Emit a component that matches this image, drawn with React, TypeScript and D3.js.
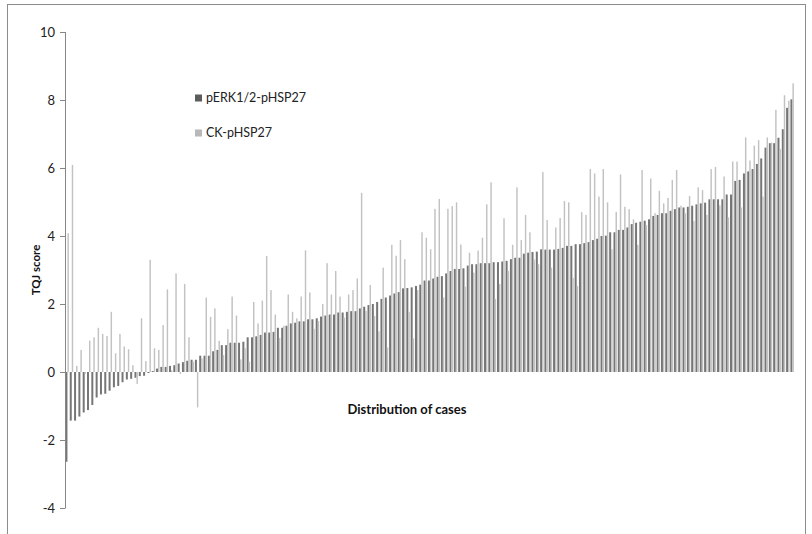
import React from 'react';
import * as d3 from 'd3';

// pERK1/2-pHSP27 TQJ scores, sorted ascending (one per case)
const perkValues = [
  -2.64, -1.43, -1.43, -1.31, -1.19, -1.12, -0.97, -0.75, -0.66, -0.64,
  -0.55, -0.45, -0.41, -0.30, -0.22, -0.20, -0.17, -0.12, -0.11, -0.03,
  0.03, 0.10, 0.15, 0.15, 0.18, 0.20, 0.25, 0.29, 0.33, 0.36,
  0.36, 0.48, 0.48, 0.48, 0.61, 0.65, 0.79, 0.79, 0.86, 0.86,
  0.86, 0.89, 1.02, 1.02, 1.05, 1.09, 1.16, 1.16, 1.18, 1.30,
  1.30, 1.36, 1.43, 1.45, 1.49, 1.49, 1.55, 1.55, 1.58, 1.63,
  1.66, 1.69, 1.69, 1.75, 1.75, 1.77, 1.79, 1.79, 1.87, 1.92,
  1.97, 2.00, 2.06, 2.15, 2.19, 2.25, 2.31, 2.35, 2.46, 2.47,
  2.49, 2.53, 2.57, 2.69, 2.69, 2.75, 2.80, 2.82, 2.90, 2.97,
  3.03, 3.03, 3.05, 3.13, 3.17, 3.17, 3.20, 3.20, 3.20, 3.23,
  3.23, 3.25, 3.27, 3.32, 3.36, 3.36, 3.48, 3.51, 3.53, 3.54,
  3.61, 3.60, 3.60, 3.60, 3.62, 3.65, 3.71, 3.71, 3.76, 3.76,
  3.79, 3.82, 3.88, 3.92, 4.00, 4.01, 4.11, 4.11, 4.18, 4.18,
  4.25, 4.35, 4.39, 4.42, 4.45, 4.49, 4.59, 4.62, 4.67, 4.67,
  4.74, 4.79, 4.84, 4.84, 4.86, 4.89, 4.93, 4.96, 4.98, 5.08,
  5.08, 5.08, 5.08, 5.22, 5.22, 5.62, 5.65, 5.84, 5.90, 5.97,
  6.12, 6.28, 6.60, 6.73, 6.73, 6.89, 7.14, 7.77, 8.02,
];

// CK-pHSP27 TQJ scores for the same cases
const ckValues = [
  4.08, 6.09, 0.18, 0.65, -0.05, 0.92, 1.02, 1.30, 1.12, 1.06,
  1.77, 0.55, 1.12, 0.75, 0.67, 0.20, -0.35, 1.58, 0.32, 3.30,
  0.70, 0.65, 1.38, 2.43, 0.05, 2.90, -0.06, 2.59, 1.02, 0.30,
  -1.04, 0.40, 2.19, 1.62, 1.87, 0.92, 0.50, 1.26, 2.22, 1.66,
  0.37, 0.70, 0.30, 2.06, 1.43, 2.10, 3.41, 2.41, 1.69, 1.00,
  1.36, 2.28, 1.77, 1.58, 2.22, 3.58, 2.34, 1.27, 1.50, 2.00,
  3.20, 2.28, 2.97, 2.22, 1.60, 2.28, 2.41, 2.75, 5.27, 1.80,
  2.56, 1.65, 1.20, 3.07, 0.72, 3.74, 3.42, 3.88, 3.32, 1.77,
  0.99, 2.41, 4.11, 3.95, 3.61, 4.80, 5.09, 2.19, 4.80, 4.88,
  4.99, 3.75, 2.51, 3.51, 2.92, 3.57, 3.95, 4.93, 5.58, 2.15,
  2.59, 4.52, 2.97, 3.74, 5.43, 3.88, 4.62, 4.11, 3.31, 3.17,
  5.88, 4.47, 3.07, 4.25, 4.53, 5.03, 4.99, 2.77, 2.53, 4.70,
  4.62, 5.97, 5.84, 5.16, 5.97, 4.99, 3.61, 4.71, 5.81, 4.86,
  4.79, 4.49, 3.74, 5.94, 4.32, 5.69, 4.67, 5.33, 4.96, 5.12,
  5.65, 5.94, 4.89, 4.67, 5.18, 4.44, 5.43, 5.35, 4.62, 5.97,
  6.03, 4.90, 5.75, 4.55, 6.19, 6.19, 4.84, 6.90, 6.22, 6.66,
  6.82, 5.16, 6.90, 6.75, 7.71, 6.56, 8.14, 7.98, 8.49,
];

const seriesNames = ['pERK1/2-pHSP27', 'CK-pHSP27'];
const seriesColors = ['#767676', '#c2c2c2'];
const legendColors = ['#5c5c5c', '#b8b8b8'];
const yTicks = [-4, -2, 0, 2, 4, 6, 8, 10];

const W = 812, H = 534;
const FONT = 'Lato, "Open Sans", "DejaVu Sans", sans-serif';

export default function App() {
  const cases = perkValues.map((_, i) => i);

  const x = d3.scaleBand<number>()
    .domain(cases)
    .range([65, 794.3])
    .paddingInner(0.2)
    .paddingOuter(0.1);

  const bw = x.bandwidth();
  // dark bar a bit wider than the light one, side by side
  const widths = [bw * 0.58, bw * 0.42];
  const offsets = [0, bw * 0.58];

  const y = d3.scaleLinear().domain([-4, 10]).range([508, 32]);

  const series = [perkValues, ckValues];

  return (
    <div style={{ position: 'absolute', left: 0, top: 0 }}>
      <svg width={W} height={H} style={{ display: 'block', background: '#fff' }}>
        <rect x={7.5} y={4.5} width={798} height={540} fill="none" stroke="#8c8c8c" strokeWidth={1} />

        {series.map((vals, s) => (
          <g key={s}>
            {vals.map((v, i) => (
              <rect
                key={i}
                x={(x(i) ?? 0) + offsets[s]}
                y={y(Math.max(0, v))}
                width={widths[s]}
                height={Math.abs(y(v) - y(0))}
                fill={seriesColors[s]}
              />
            ))}
          </g>
        ))}

        {/* y axis */}
        <line x1={65.5} x2={65.5} y1={y(10)} y2={y(-4)} stroke="#868686" />
        {yTicks.map(t => (
          <g key={t}>
            <line x1={60} x2={65.5} y1={Math.round(y(t)) + 0.5} y2={Math.round(y(t)) + 0.5} stroke="#868686" />
            <text x={55} y={y(t)} dy="0.35em" textAnchor="end" fontFamily={FONT} fontSize={13} fill="#222">
              {t}
            </text>
          </g>
        ))}

        <text
          transform={`translate(40,${y(3)}) rotate(-90)`}
          textAnchor="middle"
          fontFamily={FONT}
          fontSize={11.5}
          fontWeight="bold"
          fill="#111"
        >
          TQJ score
        </text>

        <text x={407} y={414} textAnchor="middle" fontFamily={FONT} fontSize={13} fontWeight="bold" fill="#111">
          Distribution of cases
        </text>

        {/* legend */}
        {seriesNames.map((name, i) => (
          <g key={name} transform={`translate(195,${98 + i * 35})`}>
            <rect x={0} y={-3.5} width={7} height={7} fill={legendColors[i]} />
            <text x={11} y={0} dy="0.35em" fontFamily={FONT} fontSize={12.5} fill="#222">
              {name}
            </text>
          </g>
        ))}
      </svg>
    </div>
  );
}
